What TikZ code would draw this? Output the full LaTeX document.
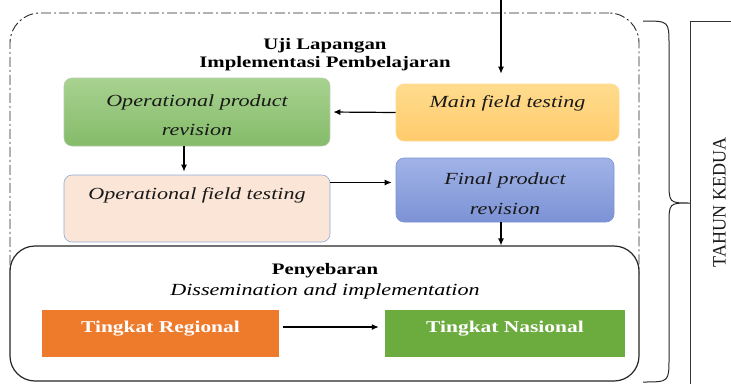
\documentclass[tikz,border=0pt]{standalone}
\usepackage{fontspec}
\setmainfont{Liberation Serif}[FakeStretch=1.3]
\newfontfamily\sidefont{Liberation Serif}[FakeStretch=0.95]
\usetikzlibrary{arrows.meta}

\definecolor{greentop}{HTML}{A8D290}
\definecolor{greenbot}{HTML}{84BB69}
\definecolor{yellowtop}{HTML}{FFDC8E}
\definecolor{yellowbot}{HTML}{FFCB6C}
\definecolor{peach}{HTML}{FBE5D6}
\definecolor{peachline}{HTML}{8FAADC}
\definecolor{bluetop}{HTML}{A1B3E7}
\definecolor{bluebot}{HTML}{7C92D5}
\definecolor{orangebox}{HTML}{EE7A2C}
\definecolor{greenbox}{HTML}{6CAB3E}

\begin{document}
\begin{tikzpicture}[x=1pt,y=-1pt,
    box/.style={draw, rounded corners=8pt, inner sep=0pt, line width=0.6pt,
        font=\fontsize{17}{20}\selectfont\itshape, text=black!90, align=center},
    flatbox/.style={inner sep=0pt, font=\fontsize{16.5}{20}\selectfont\bfseries, text=white},
    title/.style={font=\fontsize{16}{18}\selectfont\bfseries, text=black, align=center},
    arr/.style={-{Latex[length=7pt,width=6pt]}, line width=1.2pt}]
  \useasboundingbox (0,0) rectangle (731,383);

  % frames
  \node[draw=black!85, line width=0.9pt, rounded corners=30pt,
        dash pattern=on 10pt off 3pt on 2pt off 3pt,
        minimum width=629pt, minimum height=287pt] (trial) at (324.5,156.5) {};
  \node[draw=black!85, fill=white, line width=1.2pt, rounded corners=25pt,
        minimum width=629pt, minimum height=135pt] (spread) at (324.5,313.5) {};

  \node[title] (trialtitle) at (325,55) {Uji Lapangan\\Implementasi Pembelajaran};
  \node[title, font=\fontsize{16}{21}\selectfont, text=black] (spreadtitle) at (325,281)
        {\textbf{Penyebaran}\\\textit{\fontsize{17}{21}\selectfont Dissemination and implementation}};

  % steps
  \node[box, top color=greentop, bottom color=greenbot, draw=greentop!80!black!60,
        minimum width=266pt, minimum height=68pt, text height=46pt, text depth=0pt]
        (oprev) at (197,112) {Operational product\\[9pt]revision};
  \node[box, top color=yellowtop, bottom color=yellowbot, draw=yellowtop,
        minimum width=223pt, minimum height=57pt, text depth=21pt] (mainfield)
        at (507.5,112.5) {Main field testing};
  \node[box, fill=peach, draw=peachline, minimum width=266pt, minimum height=67pt,
        text depth=29pt] (opfield) at (197,208.5) {Operational field testing};
  \node[box, top color=bluetop, bottom color=bluebot, draw=bluebot,
        minimum width=218pt, minimum height=64pt, text height=48pt, text depth=0pt]
        (final) at (505,190) {Final product\\[10pt]revision};

  \node[flatbox, fill=orangebox, minimum width=237pt, minimum height=47pt,
        text depth=13pt] (regional) at (160.5,333.5) {Tingkat Regional};
  \node[flatbox, fill=greenbox, minimum width=240pt, minimum height=47pt,
        text depth=13pt] (national) at (505,333.5) {Tingkat Nasional};

  % connectors
  \coordinate (entry) at (501,0);
  \draw[arr, shorten >=10pt] (entry) -- (entry |- mainfield.north);
  \draw[arr, shorten >=3pt] (oprev.south -| 184,0) coordinate (c) -- (c |- opfield.north);
  \draw[arr, shorten >=3pt] (mainfield.west) -- (oprev.east);
  \draw[arr, shorten >=4pt] ([yshift=26pt]opfield.east) coordinate (a) -- (a -| final.west);
  \draw[arr] (final.south -| entry) coordinate (d) -- (d |- spread.north);
  \draw[arr, shorten <=4pt, shorten >=6pt] ([yshift=6.5pt]regional.east) coordinate (b)
        -- (b -| national.west);

  % year
  \draw[line width=1pt, black!85] (643,21) .. controls (669,21) .. (669,45) -- (669,181)
        .. controls (669,203) .. (690,203) .. controls (669,203) .. (669,225) -- (669,358)
        .. controls (669,382) .. (643,382);
  \draw[line width=1pt, black!80] (745,21) -- (690,21) -- (690,395);
  \node[rotate=90, font=\sidefont\fontsize{19}{19}\selectfont, text=black!90] (year)
        at (719.5,202.5) {TAHUN KEDUA};
\end{tikzpicture}
\end{document}
